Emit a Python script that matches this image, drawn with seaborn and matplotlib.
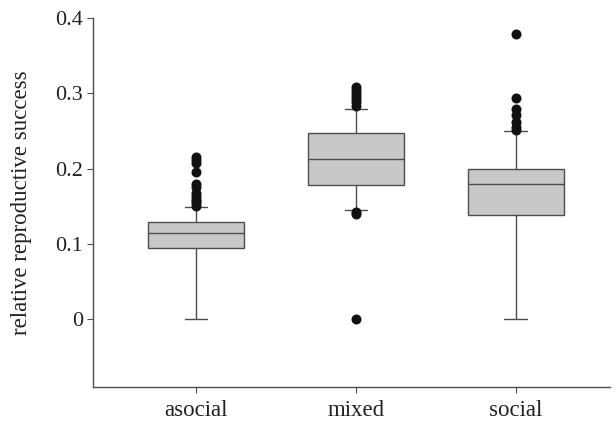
import matplotlib
matplotlib.use("Agg")
import matplotlib.pyplot as plt
import seaborn as sns
import pandas as pd

# Group names and box summaries (relative reproductive success)
categories = ["asocial", "mixed", "social"]
q1 = [0.095, 0.178, 0.139]
median = [0.115, 0.213, 0.180]
q3 = [0.129, 0.247, 0.199]
whisker_low = [0.0, 0.145, 0.0]
whisker_high = [0.149, 0.280, 0.250]

# Points beyond the whiskers, per group
outliers_asocial = [0.215, 0.211, 0.207, 0.196, 0.180, 0.176, 0.168, 0.164,
                    0.160, 0.157, 0.154, 0.151]
outliers_mixed = [0.308, 0.304, 0.300, 0.296, 0.292, 0.288, 0.284,
                  0.142, 0.140, 0.0]
outliers_social = [0.379, 0.294, 0.280, 0.271, 0.262, 0.255, 0.252]

ytick_values = [0.0, 0.1, 0.2, 0.3, 0.4]
ytick_labels = ["0", "0.1", "0.2", "0.3", "0.4"]

sns.set_theme(style="ticks")
plt.rcParams["font.family"] = ["Liberation Serif", "DejaVu Serif"]

line_color = "#4d4d4d"
box_fill = "#c8c8c8"

fig = plt.figure(figsize=(6.16, 4.23), dpi=100)
ax = fig.add_axes([0.151, 0.085, 0.839, 0.872])

stats = []
for i, name in enumerate(categories):
    stats.append({
        "label": name,
        "q1": q1[i], "med": median[i], "q3": q3[i],
        "whislo": whisker_low[i], "whishi": whisker_high[i],
        "fliers": [],
    })

ax.bxp(
    stats, positions=range(len(categories)), widths=0.6, patch_artist=True,
    showfliers=False,
    boxprops=dict(facecolor=box_fill, edgecolor=line_color, linewidth=1.0),
    medianprops=dict(color=line_color, linewidth=1.0),
    whiskerprops=dict(color=line_color, linewidth=1.0),
    capprops=dict(color=line_color, linewidth=1.0),
    capwidths=0.14,
)

flier_df = pd.DataFrame({
    "group": ["asocial"] * len(outliers_asocial)
             + ["mixed"] * len(outliers_mixed)
             + ["social"] * len(outliers_social),
    "value": outliers_asocial + outliers_mixed + outliers_social,
})
sns.stripplot(data=flier_df, x="group", y="value", order=categories,
              jitter=False, color="#111111", size=7.2, linewidth=0,
              ax=ax, zorder=3)

ax.set_xlim(-0.645, 2.59)
ax.set_ylim(-0.09, 0.4)
ax.set_yticks(ytick_values)
ax.set_yticklabels(ytick_labels)
ax.set_xticks(range(len(categories)))
ax.set_xticklabels(categories)
ax.set_xlabel("")
ax.set_ylabel("relative reproductive success", fontsize=16.5, color="#222222")
ax.yaxis.set_label_coords(-0.118, 0.5)

for side in ["top", "right"]:
    ax.spines[side].set_visible(False)
for side in ["left", "bottom"]:
    ax.spines[side].set_color(line_color)
    ax.spines[side].set_linewidth(1.0)
ax.tick_params(axis="both", colors=line_color, length=4, width=0.8,
               labelcolor="#222222")
ax.tick_params(axis="y", pad=3, labelsize=16)
ax.tick_params(axis="x", pad=5, labelsize=16.5)

fig.savefig("out.png", dpi=100)
